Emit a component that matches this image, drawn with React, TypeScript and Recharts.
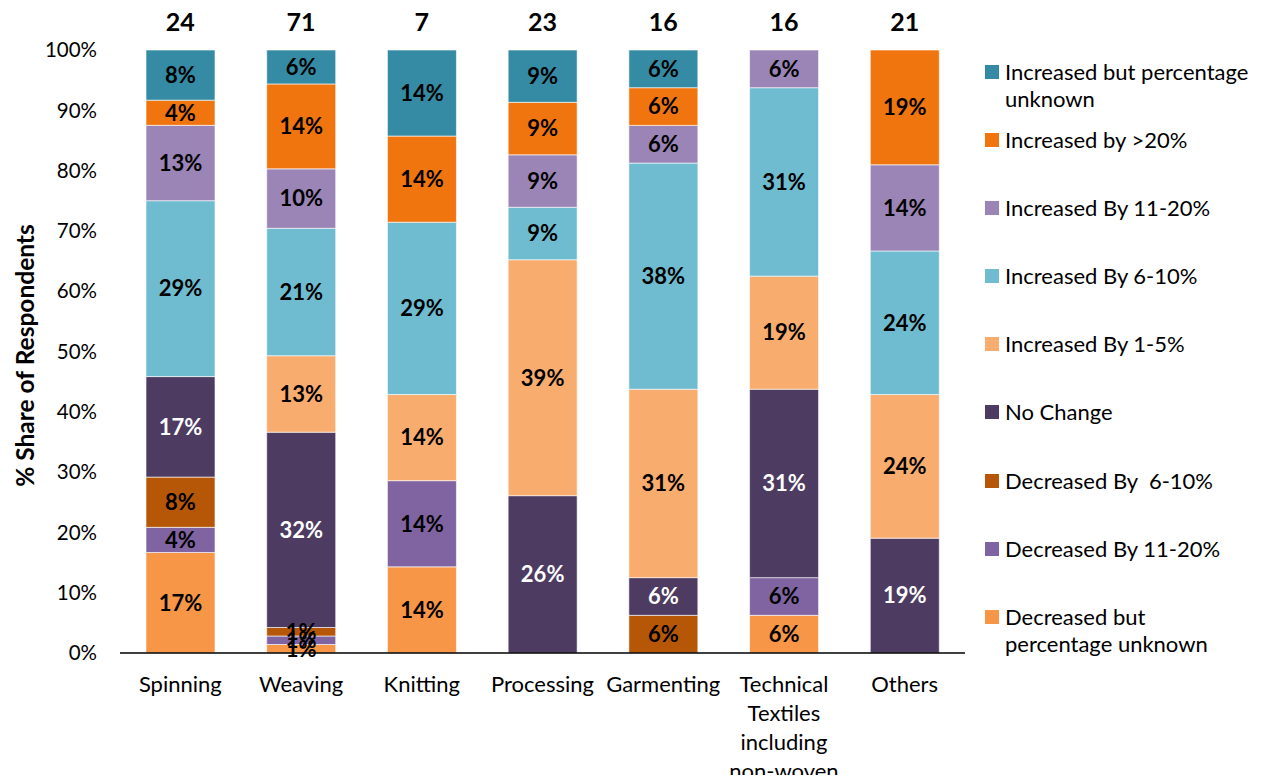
import React from 'react';
import { BarChart, Bar, XAxis, YAxis, Legend, LabelList } from 'recharts';

const FONT = 'Lato, "Open Sans", sans-serif';

const categories = ['Spinning', 'Weaving', 'Knitting', 'Processing', 'Garmenting', 'Technical Textiles including non-woven', 'Others'];
const respondents = [24, 71, 7, 23, 16, 16, 21];

// shares in % of respondents per category
const decUnknown = [16.67, 1.41, 14.29, 0, 0, 6.25, 0];
const dec11to20 = [4.17, 1.41, 14.29, 0, 0, 6.25, 0];
const dec6to10 = [8.33, 1.41, 0, 0, 6.25, 0, 0];
const noChange = [16.67, 32.39, 0, 26.09, 6.25, 31.25, 19.05];
const inc1to5 = [0, 12.68, 14.29, 39.13, 31.25, 18.75, 23.81];
const inc6to10 = [29.17, 21.13, 28.57, 8.7, 37.5, 31.25, 23.81];
const inc11to20 = [12.5, 9.86, 0, 8.7, 6.25, 6.25, 14.29];
const incOver20 = [4.17, 14.08, 14.29, 8.7, 6.25, 0, 19.05];
const incUnknown = [8.33, 5.63, 14.29, 8.7, 6.25, 0, 0];

const yTicks = [0, 10, 20, 30, 40, 50, 60, 70, 80, 90, 100];

const series = [
  { key: 'decUnknown', name: 'Decreased but percentage unknown', values: decUnknown, color: '#F79646', text: '#000' },
  { key: 'dec11to20', name: 'Decreased By 11-20%', values: dec11to20, color: '#8064A2', text: '#000' },
  { key: 'dec6to10', name: 'Decreased By  6-10%', values: dec6to10, color: '#B65708', text: '#000' },
  { key: 'noChange', name: 'No Change', values: noChange, color: '#4D3B62', text: '#fff' },
  { key: 'inc1to5', name: 'Increased By 1-5%', values: inc1to5, color: '#F8AC6E', text: '#000' },
  { key: 'inc6to10', name: 'Increased By 6-10%', values: inc6to10, color: '#6FBCD0', text: '#000' },
  { key: 'inc11to20', name: 'Increased By 11-20%', values: inc11to20, color: '#9B84B6', text: '#000' },
  { key: 'incOver20', name: 'Increased by >20%', values: incOver20, color: '#F0750F', text: '#000' },
  { key: 'incUnknown', name: 'Increased but percentage unknown', values: incUnknown, color: '#358BA4', text: '#000' },
];

const data = categories.map((name, i) => {
  const row: Record<string, any> = { name, n: respondents[i] };
  series.forEach((s) => { row[s.key] = s.values[i]; });
  return row;
});

const fmt = (v: any) => (v ? `${Math.round(Number(v))}%` : '');

let measureCtx: CanvasRenderingContext2D | null = null;
const measure = (str: string, font: string) => {
  if (!measureCtx && typeof document !== 'undefined') {
    measureCtx = document.createElement('canvas').getContext('2d');
  }
  if (!measureCtx) return str.length * 11;
  measureCtx.font = font;
  return measureCtx.measureText(str).width;
};

const wrapWords = (str: string, maxWidth: number, font: string) => {
  const words = String(str).split(' ');
  const lines: string[] = [];
  let cur = '';
  words.forEach((w) => {
    const test = cur ? `${cur} ${w}` : w;
    if (cur && measure(test, font) > maxWidth) {
      lines.push(cur);
      cur = w;
    } else {
      cur = test;
    }
  });
  if (cur) lines.push(cur);
  return lines;
};

const BottomTick = (props: any) => {
  const { x, y, payload } = props;
  const lines = wrapWords(payload.value, 125, `22px Lato`);
  return (
    <text x={x} y={y} textAnchor="middle" fontSize={22} fontFamily={FONT} fill="#000">
      {lines.map((ln, i) => (
        <tspan key={i} x={x} dy={i === 0 ? 16 : 29}>{ln}</tspan>
      ))}
    </text>
  );
};

const TopTick = (props: any) => {
  const { x, y, payload } = props;
  return (
    <text x={x} y={y} textAnchor="middle" fontSize={25} fontWeight="bold" fontFamily={FONT} fill="#000">
      {respondents[payload.index]}
    </text>
  );
};

const YLabel = (props: any) => {
  const vb = props.viewBox || { x: 0, y: 0, width: 120, height: 600 };
  const cx = vb.x + 24;
  const cy = vb.y + vb.height / 2 + 4;
  return (
    <text
      x={cx}
      y={cy}
      transform={`rotate(-90, ${cx}, ${cy})`}
      textAnchor="middle"
      dominantBaseline="central"
      fontSize={24.5}
      fontWeight="bold"
      fontFamily={FONT}
      fill="#000"
    >
      % Share of Respondents
    </text>
  );
};

const renderLegend = () => {
  const items = [...series].reverse();
  return (
    <div style={{ fontFamily: FONT, fontSize: 22, color: '#000' }}>
      {items.map((s) => (
        <div key={s.key} style={{ height: 68.1, display: 'flex', alignItems: 'flex-start' }}>
          <div style={{ width: 14, height: 14, background: s.color, marginTop: 7, marginRight: 6, flex: '0 0 14px' }} />
          <div style={{ width: 250, lineHeight: '27px', whiteSpace: 'pre-wrap' }}>{s.name}</div>
        </div>
      ))}
    </div>
  );
};

export default function App() {
  return (
    <div style={{ margin: -8, width: 1264, height: 783, position: 'relative', background: '#fff' }}>
      <BarChart
        width={1264}
        height={783}
        data={data}
        margin={{ top: 10, right: 299, bottom: 10, left: 0 }}
        barSize={69}
      >
        <XAxis
          dataKey="name"
          xAxisId="bottom"
          height={120}
          interval={0}
          tickLine={false}
          tickSize={0}
          tickMargin={23}
          axisLine={{ stroke: '#000', strokeWidth: 1.5 }}
          tick={<BottomTick />}
        />
        <XAxis
          dataKey="name"
          xAxisId="top"
          orientation="top"
          height={40}
          interval={0}
          tickLine={false}
          tickSize={0}
          tickMargin={19}
          axisLine={false}
          tick={<TopTick />}
        />
        <YAxis
          width={120}
          type="number"
          domain={[0, 100]}
          allowDataOverflow
          ticks={yTicks}
          interval={0}
          tickFormatter={(v: number) => `${v}%`}
          axisLine={false}
          tickLine={false}
          tickSize={0}
          tickMargin={23}
          tick={{ fontSize: 20.5, fontFamily: FONT, fill: '#000' }}
          label={<YLabel />}
        />
        <Legend
          layout="vertical"
          align="center"
          verticalAlign="middle"
          wrapperStyle={{ position: 'absolute', left: 985, top: 58, width: 279 }}
          content={renderLegend}
        />
        {series.map((s) => (
          <Bar
            key={s.key}
            dataKey={s.key}
            name={s.name}
            stackId="a"
            xAxisId="bottom"
            fill={s.color}
            stroke="#ffffff"
            strokeOpacity={0.6}
            strokeWidth={1}
            isAnimationActive={false}
          >
            <LabelList
              dataKey={s.key}
              position="center"
              formatter={fmt}
              fill={s.text}
              fontSize={22}
              fontWeight="bold"
              fontFamily={FONT}
            />
          </Bar>
        ))}
      </BarChart>
    </div>
  );
}
